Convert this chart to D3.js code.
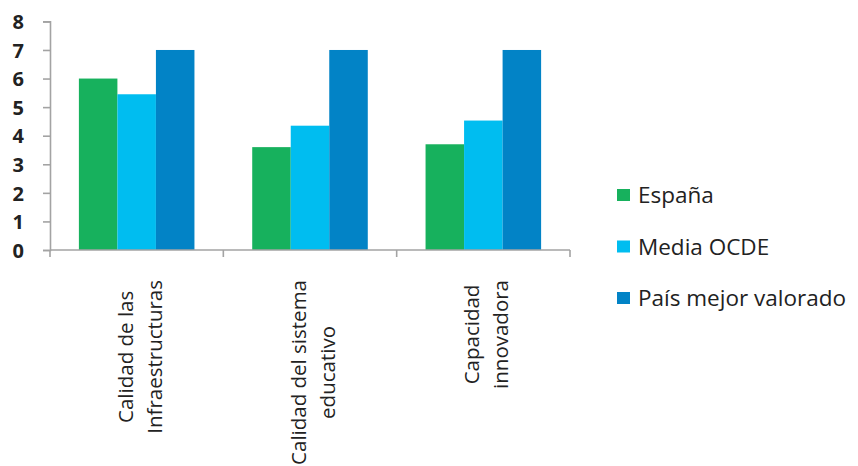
<!DOCTYPE html>
<html><head><meta charset="utf-8">
<script src="https://cdn.jsdelivr.net/npm/d3@7"></script>
<style>body{margin:0;background:#fff}svg{display:block}</style>
</head><body>
<svg id="c" width="858" height="466"></svg>
<script>
const categories = [["Calidad de las","Infraestructuras"],["Calidad del sistema","educativo"],["Capacidad","innovadora"]];
const seriesNames = ["España","Media OCDE","País mejor valorado"];
const espana = [6.0, 3.6, 3.7];
const mediaOCDE = [5.45, 4.35, 4.53];
const mejorValorado = [7, 7, 7];
const yTicks = [0,1,2,3,4,5,6,7,8];
const colors = ["#17b15d","#00bdf0","#0283c6"];

const series = [espana, mediaOCDE, mejorValorado];
const svg = d3.select("#c");
const font = "'Open Sans', sans-serif";
const x0 = 50, x1 = 570, yBase = 250;
const y = d3.scaleLinear().domain([0,8]).range([yBase, 21.4]);
const x = d3.scaleBand().domain(d3.range(categories.length)).range([x0,x1]).paddingInner(0).paddingOuter(0);
const xs = d3.scaleBand().domain(d3.range(series.length)).range([0,x.bandwidth()]).paddingInner(0).paddingOuter(0.75);

// bars
series.forEach((vals,si)=>{
  svg.append("g").selectAll("rect").data(vals).join("rect")
    .attr("x",(d,i)=>x(i)+xs(si)).attr("width",xs.bandwidth())
    .attr("y",d=>y(d)).attr("height",d=>yBase-y(d))
    .attr("fill",colors[si]);
});

// y axis
const ya = svg.append("g").attr("transform",`translate(${x0},0)`)
  .call(d3.axisLeft(y).tickValues(yTicks).tickSize(7).tickPadding(0).tickFormat(d3.format("d")));
ya.select(".domain").attr("stroke","#a3a3a3").attr("stroke-width",1.6);
ya.selectAll(".tick line").attr("stroke","#a3a3a3").attr("stroke-width",1.6);
ya.selectAll(".tick text").attr("x",-26).attr("text-anchor","end")
  .attr("font-family",font).attr("font-weight","bold").attr("font-size",20).attr("fill","#222").attr("dy","0.36em");

// x axis
const xa = svg.append("g").attr("transform",`translate(0,${yBase})`);
xa.append("line").attr("x1",x0).attr("x2",x1).attr("stroke","#a3a3a3").attr("stroke-width",1.6);
const bounds = d3.range(categories.length+1).map(i=> i<categories.length ? x(i) : x1);
xa.selectAll("line.tk").data(bounds).join("line").attr("class","tk")
  .attr("x1",d=>d).attr("x2",d=>d).attr("y1",0).attr("y2",7).attr("stroke","#a3a3a3").attr("stroke-width",1.6);

// category labels
categories.forEach((lines,i)=>{
  const cx = x(i)+x.bandwidth()/2 + 2.5;
  const g = svg.append("g");
  const texts = lines.map((t,li)=> g.append("text").text(t)
    .attr("font-family",font).attr("font-size",20.5).attr("fill","#222")
    .attr("text-anchor","middle").attr("dominant-baseline","central"));
  const maxLen = d3.max(texts, t=>t.node().getComputedTextLength());
  const cy = 280 + maxLen/2;
  texts.forEach((t,li)=>{
    const lx = cx + (li - (lines.length-1)/2)*29;
    t.attr("transform",`translate(${lx},${cy}) rotate(-90)`);
  });
});

// legend
const lg = svg.append("g");
seriesNames.forEach((n,i)=>{
  const cy = 195 + i*51.5;
  lg.append("rect").attr("x",617).attr("y",cy-6).attr("width",13).attr("height",12).attr("fill",colors[i]);
  lg.append("text").attr("x",638).attr("y",cy).attr("dy","0.36em").text(n)
    .attr("font-family",font).attr("font-size",22.5).attr("fill","#222");
});
</script>
</body></html>
